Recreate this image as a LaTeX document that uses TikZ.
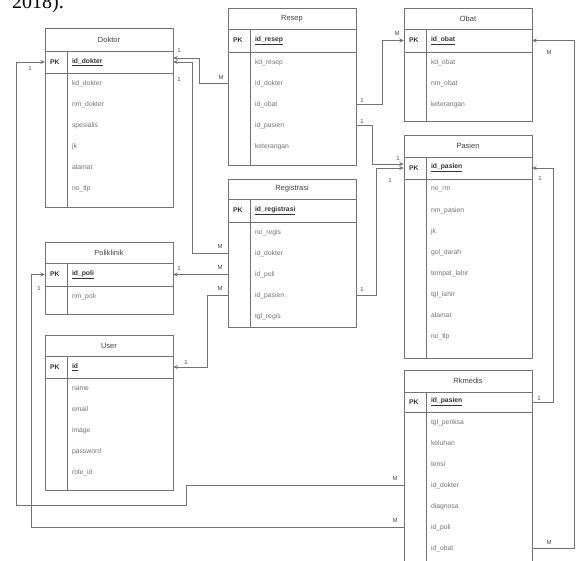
\documentclass[tikz,border=0pt]{standalone}
\usepackage{fontspec}
\setmainfont{Liberation Sans}
\newfontfamily\serifx{Liberation Serif}
\usetikzlibrary{arrows.meta}
\newcommand\ertable[9]{%
  \draw[tline] (#2,#3) rectangle (#2+128,#6);
  \draw[tline] (#2,#4) -- (#2+128,#4);
  \draw[tline] (#2,#5) -- (#2+128,#5);
  \draw[tline] (#2+22,#4) -- (#2+22,#6);
  \node[ttl] (#1-t) at (#2+64,{(#3+#4)/2}) {#7};
  \node[rowbox] (#1-pk) at (#2+64,{(#4+#5)/2}) {};
  \node[pkt] (#1-pkl) at ([xshift=5pt]#1-pk.west) {PK};
  \node[pkt] (#1-pkn) at ([xshift=27pt]#1-pk.west) {\underline{\detokenize{#8}}};
  \foreach \a [count=\i] in {#9} {
    \node[rowbox] (#1-\i) at (#2+64,{#5+10.5+(\i-1)*21}) {};
    \node[attr] (#1-\i-l) at ([xshift=27pt]#1-\i.west) {\expandafter\detokenize\expandafter{\a}};
  }%
}
\begin{document}
\begin{tikzpicture}[x=1pt,y=-1pt,
  tline/.style={draw=black!55, line width=0.9pt},
  rowbox/.style={draw=none, inner sep=0pt, minimum width=128pt, minimum height=21pt},
  ttl/.style={font=\fontsize{7.5}{8}\selectfont, text=black!75},
  attr/.style={font=\fontsize{6.8}{8}\selectfont, text=black!55, anchor=west, inner sep=0pt},
  pkt/.style={font=\fontsize{6.8}{8}\selectfont\bfseries, text=black!80, anchor=west, inner sep=0pt},
  conn/.style={draw=black!55, line width=0.8pt, -{Stealth[length=4.5pt,width=4pt]}},
  card/.style={font=\fontsize{6}{6}\selectfont, text=black!70, inner sep=0pt}]
\useasboundingbox (0,0) rectangle (584,560);
\fill[white] (0,0) rectangle (584,560);
\node[anchor=base west, font=\serifx\fontsize{20}{20}\selectfont, inner sep=0pt] (frag) at (12,8) {2018).};

\ertable{dk}{45}{28}{51}{73}{207}{Doktor}{id_dokter}{kd_dokter,nm_dokter,spesialis,jk,alamat,no_tlp}
\ertable{rs}{228}{8}{29}{52}{165}{Resep}{id_resep}{kd_resep,id_dokter,id_obat,id_pasien,keterangan}
\ertable{rg}{228}{179}{199}{222}{327}{Registrasi}{id_registrasi}{no_regis,id_dokter,id_poli,id_pasien,tgl_regis}
\ertable{ob}{404}{8}{29}{52}{121}{Obat}{id_obat}{kd_obat,nm_obat,keterangan}
\ertable{pa}{404}{135}{157}{179}{358}{Pasien}{id_pasien}{no_rm,nm_pasien,jk,gol_darah,tempat_lahir,tgl_lahir,alamat,no_tlp}
\ertable{rk}{404}{370}{392}{412}{568}{Rkmedis}{id_pasien}{tgl_periksa,keluhan,tensi,id_dokter,diagnosa,id_poli,id_obat}
\ertable{po}{45}{242}{263}{286}{314}{Poliklinik}{id_poli}{nm_poli}
\ertable{us}{45}{335}{356}{378}{490}{User}{id}{name,email,image,password,role_id}

% connectors
\draw[conn] (rk-4.west) -- ++(-217,0) -- ++(0,20) -| ([xshift=-28pt]dk-pk.west) -- (dk-pk.west);
\draw[conn] (rk-6.west) -- ++(-372,0) |- (po-pk.west);
\draw[conn] (rs-2.west) -- ++(-28,0) |- ([yshift=4pt]dk-pk.east);
\draw[conn] (rg-2.west) -- ++(-35,0) |- (dk-pk.east);
\draw[conn] (rg-3.west) -- (po-pk.east);
\draw[conn] (rg-4.west) -- ++(-20,0) |- (us-pk.east);
\draw[conn] (rs-3.east) -- ++(26,0) |- (ob-pk.west);
\draw[conn] (rs-4.east) -- ++(16,0) |- ([yshift=4pt]pa-pk.west);
\draw[conn] (rg-4.east) -- ++(20,0) |- (pa-pk.west);
\draw[conn] (rk-7.east) -- ++(42,0) |- (ob-pk.east);
\draw[conn] (rk-pk.east) -- ++(21,0) |- (pa-pk.east);

% cardinalities
\node[card] (c1) at (30,68) {1};
\node[card] (c2) at (395,478) {M};
\node[card] (c3) at (39,288) {1};
\node[card] (c4) at (395,520) {M};
\node[card] (c5) at (179,50) {1};
\node[card] (c6) at (179,79) {1};
\node[card] (c7) at (221,77) {M};
\node[card] (c8) at (220,246) {M};
\node[card] (c9) at (179,268) {1};
\node[card] (c10) at (220,267) {M};
\node[card] (c11) at (186,362) {1};
\node[card] (c12) at (220,288) {M};
\node[card] (c13) at (362,100) {1};
\node[card] (c14) at (397,33) {M};
\node[card] (c15) at (362,121) {1};
\node[card] (c16) at (362,289) {1};
\node[card] (c17) at (398,158) {1};
\node[card] (c18) at (390,180) {1};
\node[card] (c19) at (549,52) {M};
\node[card] (c20) at (549,542) {M};
\node[card] (c21) at (540,178) {1};
\node[card] (c22) at (539,398) {1};
\end{tikzpicture}
\end{document}
